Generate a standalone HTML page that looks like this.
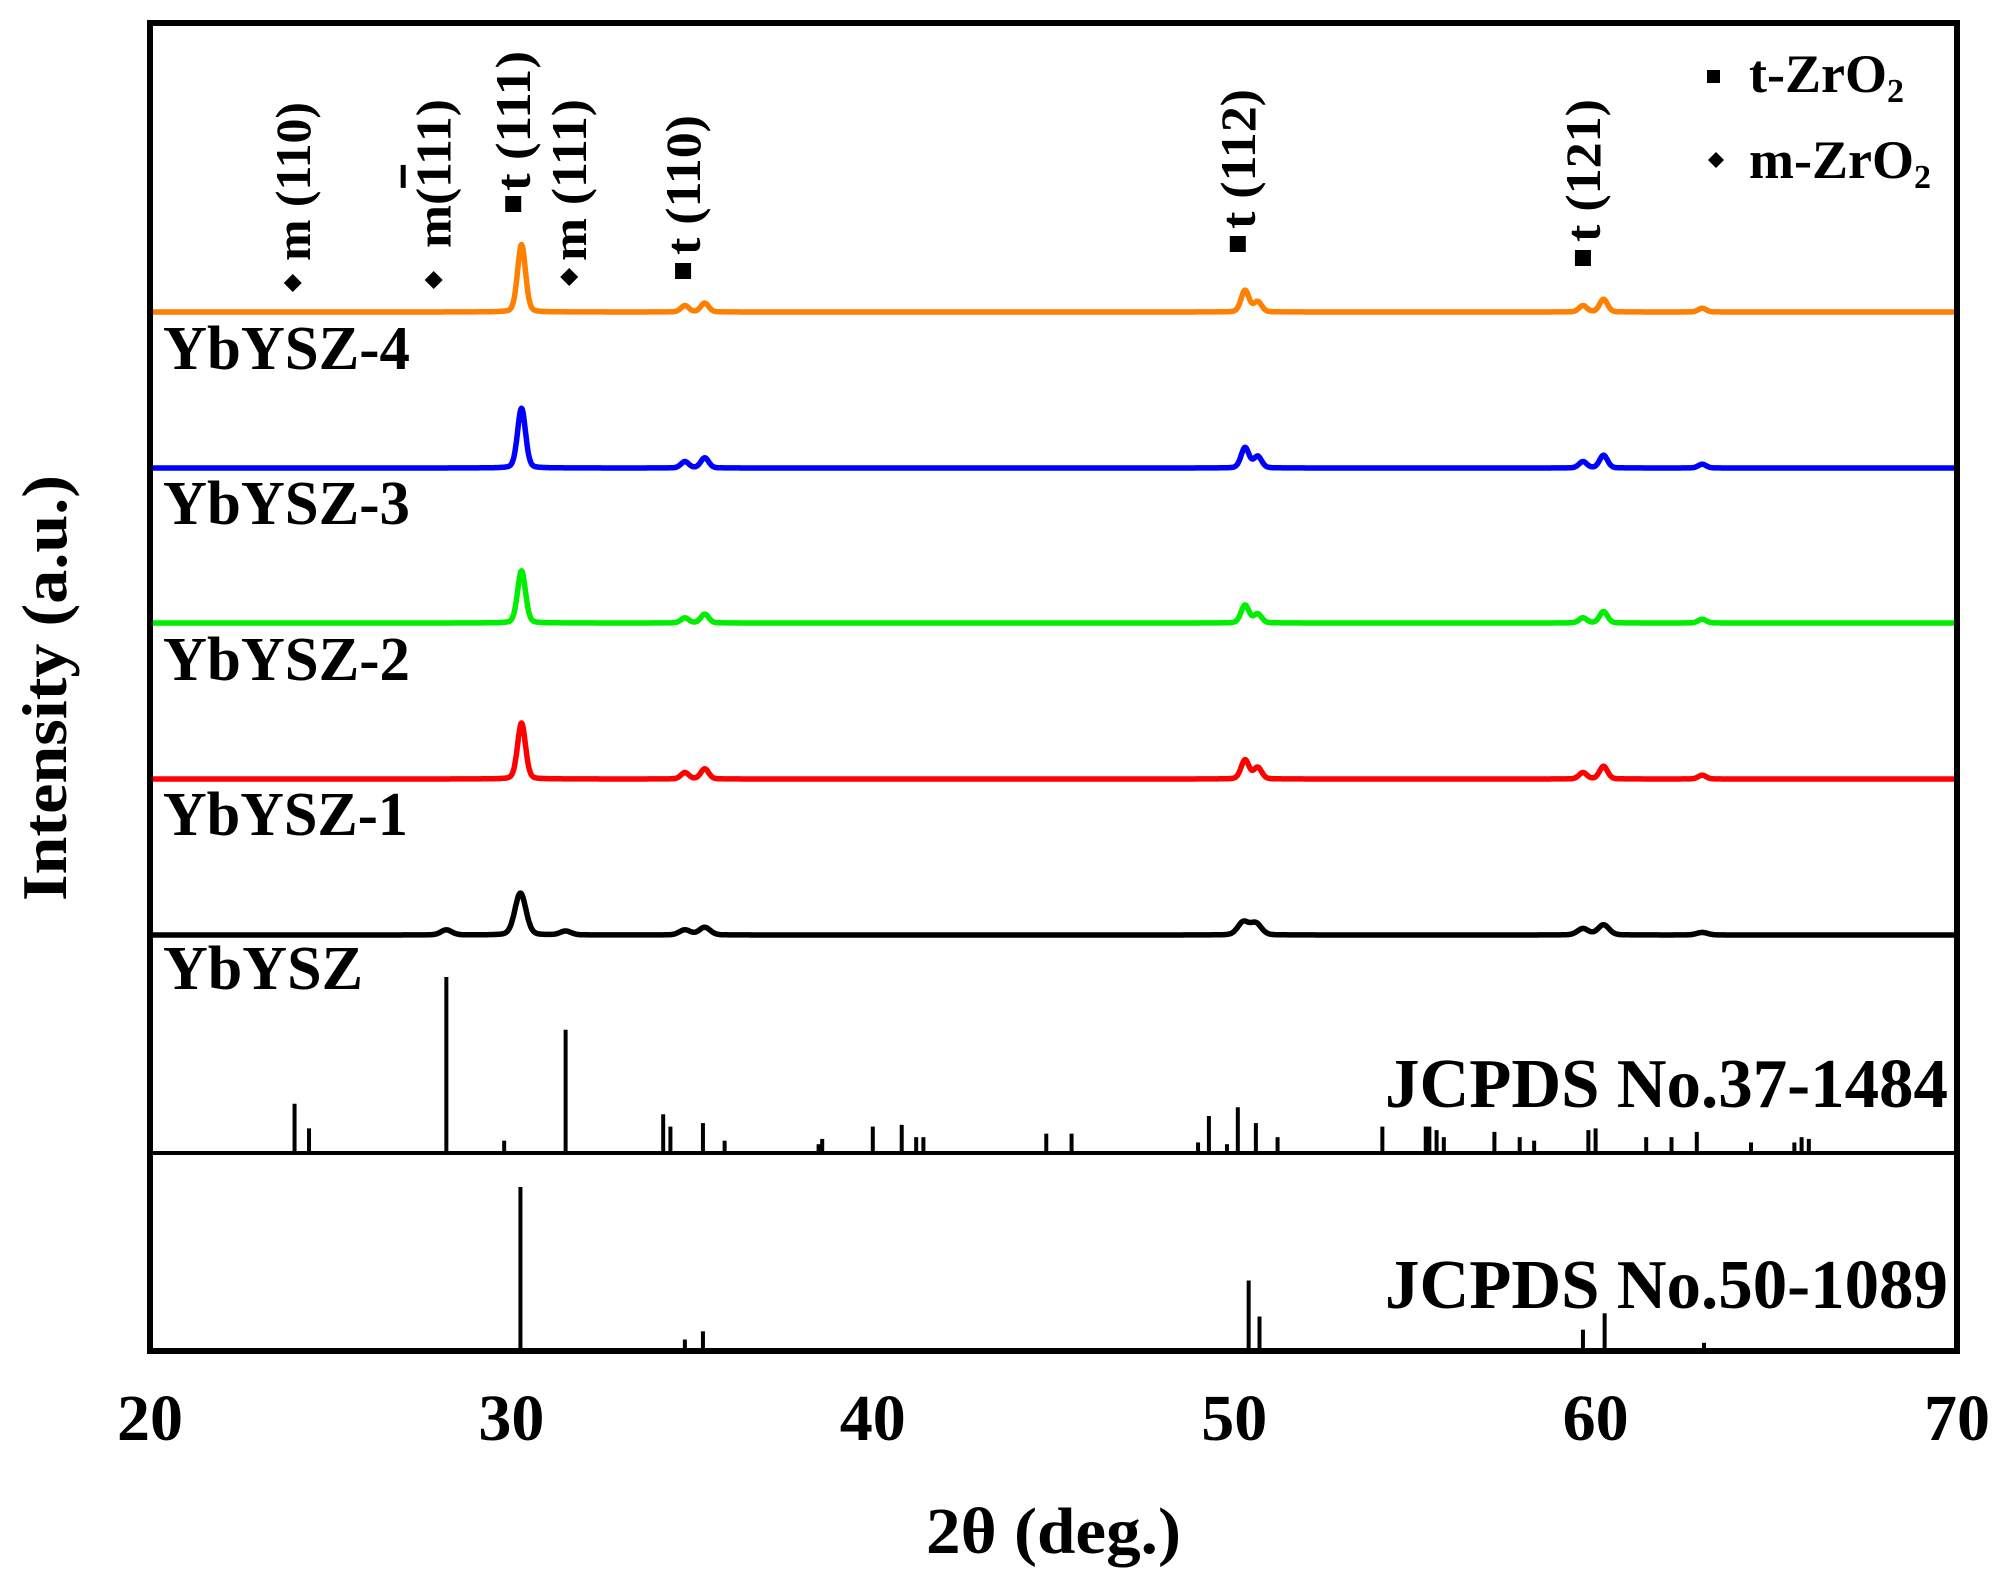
<!DOCTYPE html>
<html><head><meta charset="utf-8"><style>
html,body{margin:0;padding:0;background:#fff;}
svg{display:block;font-family:"Liberation Serif",serif;font-weight:bold;}
</style></head><body>
<svg id="chart" width="1995" height="1581" viewBox="0 0 1995 1581" xmlns="http://www.w3.org/2000/svg">
<g id="plot"></g>
<rect x="150" y="23" width="1807" height="1328" fill="none" stroke="#000" stroke-width="6"/>
<line x1="150" y1="1153" x2="1957" y2="1153" stroke="#000" stroke-width="4"/>
<g id="ticks" font-size="66" text-anchor="middle"></g>
<text x="926" y="1553" font-size="66" textLength="255" lengthAdjust="spacingAndGlyphs">2θ (deg.)</text>
<text transform="translate(66,901) rotate(-90)" font-size="64" textLength="426" lengthAdjust="spacingAndGlyphs">Intensity (a.u.)</text>
<g font-size="54">
<rect x="1707" y="70" width="13" height="13" fill="#000"/>
<text x="1749" y="92">t-ZrO<tspan font-size="34" dy="10">2</tspan></text>
<path d="M1716 152 L1724 160 L1716 168 L1708 160 Z" fill="#000"/>
<text x="1749" y="178">m-ZrO<tspan font-size="34" dy="10">2</tspan></text>
</g>
<g font-size="62">
<text x="163" y="369" textLength="247" lengthAdjust="spacingAndGlyphs">YbYSZ-4</text>
<text x="163" y="524" textLength="247" lengthAdjust="spacingAndGlyphs">YbYSZ-3</text>
<text x="163" y="680" textLength="247" lengthAdjust="spacingAndGlyphs">YbYSZ-2</text>
<text x="163" y="835" textLength="245" lengthAdjust="spacingAndGlyphs">YbYSZ-1</text>
<text x="163" y="989" textLength="200" lengthAdjust="spacingAndGlyphs">YbYSZ</text>
<text x="1385" y="1107" font-size="70" textLength="563" lengthAdjust="spacingAndGlyphs">JCPDS No.37-1484</text>
<text x="1385" y="1308" font-size="70" textLength="563" lengthAdjust="spacingAndGlyphs">JCPDS No.50-1089</text>
</g>
<g id="annot" font-size="50"></g>
</svg>
<script>
const xTicks=[20,30,40,50,60,70];
const seriesNames=["YbYSZ-4","YbYSZ-3","YbYSZ-2","YbYSZ-1","YbYSZ"];
const seriesColors=["#ff7f00","#0000ff","#00ee00","#ff0000","#000000"];
const seriesBase=[312,468,623,779,935];
const peakPos=[30.28,34.8,35.35,50.3,50.65,59.65,60.22,62.95];
const peaks4=[53,5,7,17,8,5,10,3];
const peaks3=[47,5,8,16,9,5,10,3];
const peaks2=[41,4,7,14,7,4,9,3];
const peaks1=[44,5,8,15,9,5,10,3];
const peaksBlackPos=[28.2,30.25,31.5,34.8,35.35,50.25,50.6,59.65,60.22,62.95];
const peaksBlack=[4,33,3,4,6,10,9,5,8,2];
const m37Pos=[24.0,24.4,28.2,29.8,31.5,34.2,34.4,35.3,35.9,38.5,38.6,40.0,40.8,41.2,41.4,44.8,45.5,49.0,49.3,49.8,50.1,50.6,51.2,54.1,55.3,55.4,55.6,55.8,57.2,57.9,58.3,59.8,60.0,61.4,62.1,62.8,64.3,65.5,65.7,65.9];
const m37Int=[28,14,100,7,70,22,15,17,7,5,8,15,16,9,9,11,11,6,21,5,26,17,9,15,15,15,13,9,12,9,7,13,14,9,9,12,6,6,9,8];
const t50Pos=[30.25,34.8,35.3,50.4,50.7,59.65,60.25,63.0];
const t50Int=[100,7,12,43,21,13,23,5];
const annText=[["m (110)"],["m(","1","11)"],["t (111)"],["m (111)"],["t (110)"],["t (112)"],["t (121)"]];
const annSym=["d","d","s","d","s","s","s"];
const annPos=[23.95,27.85,30.05,31.6,34.75,50.1,59.65];
const annSymY=[283,280,204,277,271,244,258];
const annTextBottom=[261,248,191,261,255,229,242];
const annLen=[159,149,140,162,140,140,143];

const NS="http://www.w3.org/2000/svg";
const X=d=>150+(d-20)/50*1807;
const U=1.273;
const plot=document.getElementById('plot');
function mk(t,a,p){const e=document.createElementNS(NS,t);for(const k in a)e.setAttribute(k,a[k]);(p||plot).appendChild(e);return e;}
const sets=[[peakPos,peaks4,0.13],[peakPos,peaks3,0.13],[peakPos,peaks2,0.13],[peakPos,peaks1,0.13],[peaksBlackPos,peaksBlack,0.18]];
sets.forEach((s,i)=>{
  let d="";
  for(let x=20;x<=70.001;x+=0.02){
    let y=0;
    for(let j=0;j<s[0].length;j++){const z=(x-s[0][j])/s[2];y+=s[1][j]*(0.8*Math.exp(-z*z*0.693)+0.2/(1+z*z));}
    d+=(d?"L":"M")+X(x).toFixed(1)+" "+(seriesBase[i]-y*U).toFixed(1);
  }
  const p=mk('path',{d:d,fill:"none",stroke:seriesColors[i],"stroke-width":5.5,"stroke-linejoin":"round"});
  
  
});
m37Pos.forEach((v,i)=>{
  const l=mk('line',{x1:X(v),x2:X(v),y1:1153,y2:1153-m37Int[i]*1.76,stroke:"#000","stroke-width":4});
  
  
});
t50Pos.forEach((v,i)=>{
  const l=mk('line',{x1:X(v),x2:X(v),y1:1351,y2:1351-t50Int[i]*1.64,stroke:"#000","stroke-width":4});
  
  
});
const tg=document.getElementById('ticks');
xTicks.forEach(v=>{
  const t=mk('text',{x:X(v),y:1440},tg);t.textContent=v;
  
  
});
const ag=document.getElementById('annot');
annText.forEach((parts,i)=>{
  const cx=X(annPos[i]);
  let sym;
  if(annSym[i]==="d"){
    const y=annSymY[i];
    sym=mk('path',{d:`M${cx} ${y-9} L${cx+9} ${y} L${cx} ${y+9} L${cx-9} ${y} Z`,fill:"#000"},ag);
  }else{
    sym=mk('rect',{x:cx-8,y:annSymY[i]-8,width:16,height:16,fill:"#000"},ag);
  }
  
  
  const t=mk('text',{transform:`translate(${cx+17},${annTextBottom[i]}) rotate(-90)`,textLength:annLen[i],lengthAdjust:"spacingAndGlyphs"},ag);
  parts.forEach((p,k)=>{
    const ts=mk('tspan',{},t);ts.textContent=p;
    if(parts.length>1&&k===1)ts.setAttribute('text-decoration','overline');
  });
  
  
});
</script>
</body></html>
